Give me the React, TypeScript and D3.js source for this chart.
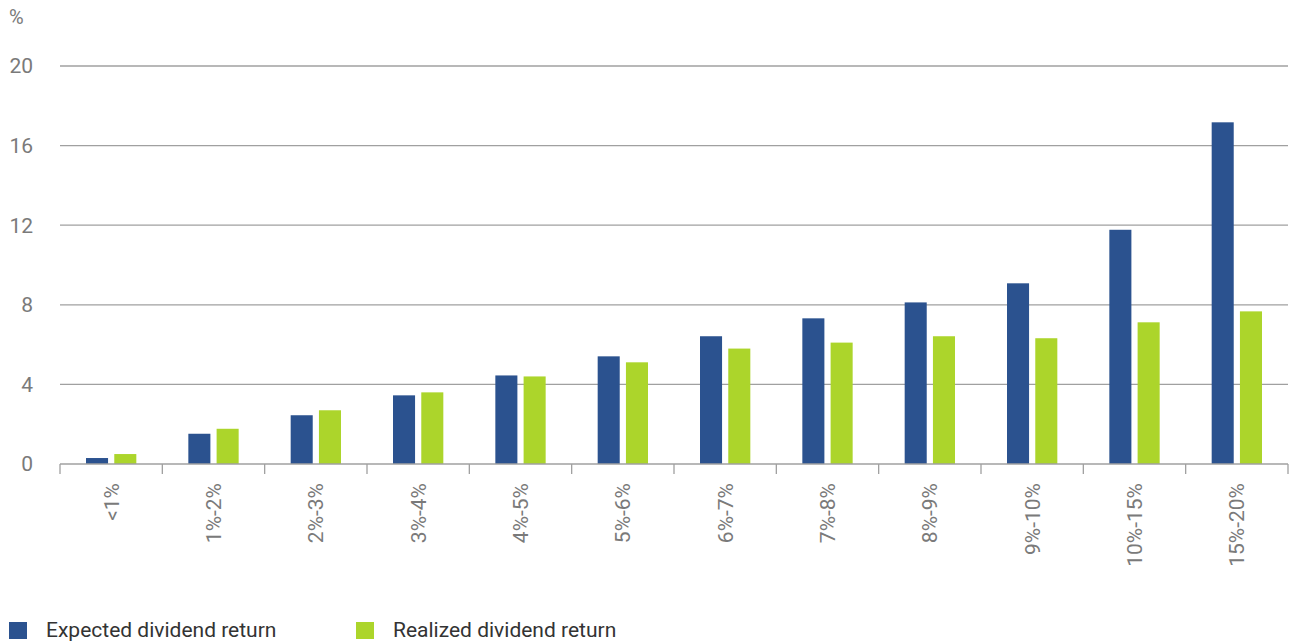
import React from "react";
import * as d3 from "d3";

const categories = ["<1%", "1%-2%", "2%-3%", "3%-4%", "4%-5%", "5%-6%", "6%-7%", "7%-8%", "8%-9%", "9%-10%", "10%-15%", "15%-20%"];
const expected = [0.3, 1.52, 2.45, 3.45, 4.45, 5.41, 6.42, 7.32, 8.12, 9.08, 11.77, 17.17];
const realized = [0.5, 1.77, 2.7, 3.6, 4.4, 5.11, 5.8, 6.1, 6.42, 6.32, 7.12, 7.67];
const yTicks = [0, 4, 8, 12, 16, 20];
const seriesNames = ["Expected dividend return", "Realized dividend return"];
const colors = ["#2b528f", "#acd52b"];

const W = 1292, H = 644;
const left = 60, right = 1288, top = 66, bottom = 464;

export default function App() {
  const x = d3.scaleBand<string>().domain(categories).range([left, right]).paddingInner(0).paddingOuter(0);
  const y = d3.scaleLinear().domain([0, 20]).range([bottom, top]);
  const inner = d3.scaleBand<string>().domain(["e", "r"]).range([0, x.bandwidth()]).paddingInner(0.22).paddingOuter(0.92);
  const font = "Roboto, 'Noto Sans', sans-serif";
  const textColor = "#7a7a7a";
  const series = [expected, realized];
  return (
    <svg width={W} height={H} style={{ position: "absolute", left: 0, top: 0, background: "#fff" }}>
      <text x={9} y={24} fontFamily={font} fontSize={20} fill={textColor}>%</text>
      {yTicks.map((t) => (
        <g key={t}>
          {t > 0 && <line x1={left} x2={right} y1={y(t)} y2={y(t)} stroke="#a0a0a0" strokeWidth={1.3} />}
          <text x={33} y={y(t)} dy="0.35em" textAnchor="end" fontFamily={font} fontSize={21} fill={textColor}>{t}</text>
        </g>
      ))}
      {categories.map((c, i) => (
        <g key={c}>
          {series.map((s, k) => (
            <rect key={k} x={(x(c) as number) + (inner(k === 0 ? "e" : "r") as number)} width={inner.bandwidth()}
              y={y(s[i])} height={y(0) - y(s[i])} fill={colors[k]} />
          ))}
        </g>
      ))}
      <line x1={left} x2={right} y1={bottom} y2={bottom} stroke="#a0a0a0" strokeWidth={1.3} />
      {categories.map((c, i) => (
        <line key={"t" + i} x1={x(c) as number} x2={x(c) as number} y1={bottom} y2={bottom + 10} stroke="#a0a0a0" strokeWidth={1.3} />
      ))}
      <line x1={right} x2={right} y1={bottom} y2={bottom + 10} stroke="#a0a0a0" strokeWidth={1.3} />
      {categories.map((c) => {
        const cx = (x(c) as number) + x.bandwidth() / 2;
        return (
          <text key={"l" + c} transform={`translate(${cx},${483}) rotate(-90)`} dy="0.35em" textAnchor="end"
            fontFamily={font} fontSize={21} fill={textColor}>{c}</text>
        );
      })}
      {seriesNames.map((n, k) => {
        const lx = k === 0 ? 9 : 356;
        return (
          <g key={n}>
            <rect x={lx} y={622} width={18} height={17} fill={colors[k]} />
            <text x={lx + 37} y={630} dy="0.35em" fontFamily={font} fontSize={21} fill="#333">{n}</text>
          </g>
        );
      })}
    </svg>
  );
}
